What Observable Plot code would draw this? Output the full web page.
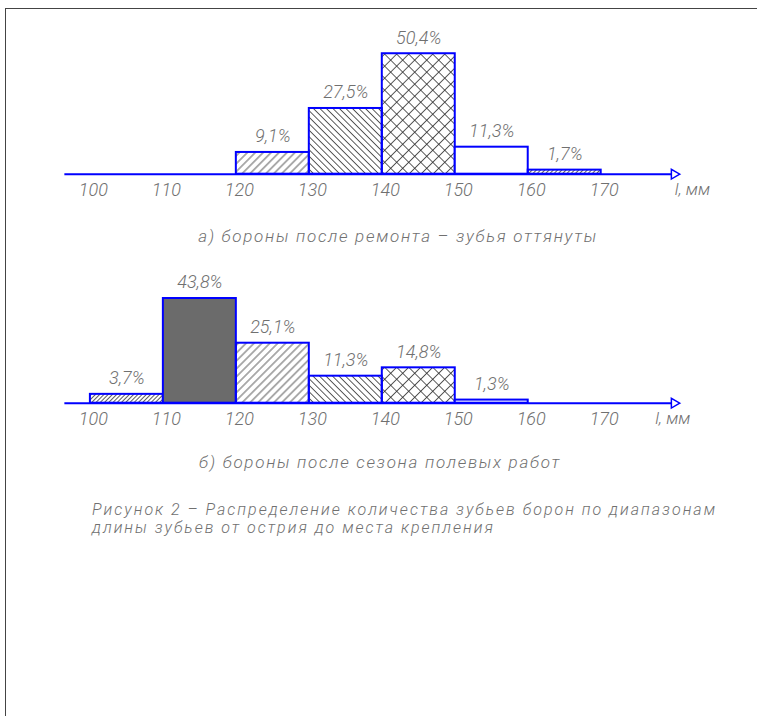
<!DOCTYPE html>
<html><head><meta charset="utf-8">
<script src="https://cdn.jsdelivr.net/npm/d3@7"></script>
<script src="https://cdn.jsdelivr.net/npm/@observablehq/plot@0.6"></script>
<style>
body{margin:0;background:#fff;width:757px;height:716px;overflow:hidden;position:relative;font-family:Roboto,"DejaVu Sans",sans-serif;}
#frame{position:absolute;left:5px;top:8px;width:800px;height:800px;border-top:1.5px solid #444;border-left:1.5px solid #444;}
.panel{position:absolute;left:0;}
.cap{position:absolute;font-style:italic;font-weight:300;color:#707070;font-size:17px;letter-spacing:1.7px;white-space:nowrap;line-height:18px;height:18px;}
.fig{font-size:16px;letter-spacing:2px;}
</style></head><body>
<svg width="0" height="0" style="position:absolute">
<defs>
 <pattern id="hF" width="5.6" height="5.6" patternUnits="userSpaceOnUse" patternTransform="rotate(45)"><line x1="2.8" y1="0" x2="2.8" y2="5.6" stroke="#333" stroke-width="0.8"/></pattern>
 <pattern id="hB" width="4.6" height="4.6" patternUnits="userSpaceOnUse" patternTransform="rotate(-45)"><line x1="2.3" y1="0" x2="2.3" y2="4.6" stroke="#333" stroke-width="0.8"/></pattern>
 <pattern id="hX" width="8.5" height="8.5" patternUnits="userSpaceOnUse" patternTransform="rotate(45)"><line x1="4.25" y1="0" x2="4.25" y2="8.5" stroke="#333" stroke-width="0.8"/><line x1="0" y1="4.25" x2="8.5" y2="4.25" stroke="#333" stroke-width="0.8"/></pattern>
 <pattern id="hD" width="3" height="3" patternUnits="userSpaceOnUse" patternTransform="rotate(45)"><line x1="1.5" y1="0" x2="1.5" y2="3" stroke="#333" stroke-width="0.8"/></pattern>
</defs></svg>
<div id="frame"></div>
<div id="pa" class="panel" style="top:0"></div>
<div id="pb" class="panel" style="top:229px"></div>
<div class="cap" style="left:398px;top:227px;transform:translateX(-50%)">а) бороны после ремонта – зубья оттянуты</div>
<div class="cap" style="left:380px;top:453px;transform:translateX(-50%)">б) бороны после сезона полевых работ</div>
<div class="cap fig" style="left:92px;top:501px;">Рисунок 2 – Распределение количества зубьев борон по диапазонам</div>
<div class="cap fig" style="left:92px;top:519px;">длины зубьев от острия до места крепления</div>
<script>
// ---- data ----
const binsA = [120, 130, 140, 150, 160];
const valuesA = [9.1, 27.5, 50.4, 11.3, 1.7];
const binsB = [100, 110, 120, 130, 140, 150];
const valuesB = [3.7, 43.8, 25.1, 11.3, 14.8, 1.3];
const binWidth = 10;
const tickValues = [100, 110, 120, 130, 140, 150, 160, 170];
const axisUnit = "l, мм";

// ---- styles ----
const fillsA = ["url(#hF)", "url(#hB)", "url(#hX)", "white", "url(#hD)"];
const fillsB = ["url(#hD)", "#6b6b6b", "url(#hF)", "url(#hB)", "url(#hX)", "white"];
const font = "Roboto, 'DejaVu Sans', sans-serif";
const txt = "#707070";

function panel(bins, values, fills, unitX) {
  const data = bins.map((b, i) => ({x1: b, x2: b + binWidth, y: values[i], f: fills[i]}));
  return Plot.plot({
    width: 757, height: 215,
    marginLeft: 89.9, marginRight: 156.3, marginTop: 30.3, marginBottom: 41.3,
    x: {domain: [100, 170], axis: null},
    y: {domain: [0, 60], axis: null},
    color: {type: "identity"},
    style: {fontFamily: font, background: "transparent", overflow: "visible"},
    marks: [
      Plot.ruleY([0], {x1: 96.5, x2: 180, stroke: "blue", strokeWidth: 2}),
      Plot.dot([0], {x: 180, y: 0, symbol: "triangle", rotate: 90, r: 3.6, stroke: "blue", fill: "white", strokeWidth: 1.5}),
      Plot.rectY(data, {x1: "x1", x2: "x2", y: "y", fill: "f", stroke: "blue", strokeWidth: 2}),
      Plot.text(data, {x: d => d.x1 + binWidth / 2, y: "y", text: d => String(d.y).replace(".", ",") + "%",
        dy: -16, fontSize: 18, fontStyle: "italic", fontWeight: 300, fill: txt, letterSpacing: 2.5, fontFamily: font}),
      Plot.axisX({ticks: tickValues, tickSize: 0, tickPadding: 9, fontSize: 18, fontStyle: "italic", fontWeight: 300,
        fill: txt, dx: 3, fontFamily: font, tickFormat: d => String(d)}),
      Plot.text([0], {x: unitX, y: 0, text: [axisUnit], dy: 15, fontSize: 17, fontStyle: "italic", fontWeight: 300, fill: txt, fontFamily: font})
    ]
  });
}
document.getElementById("pa").append(panel(binsA, valuesA, fillsA, 182.5));
document.getElementById("pb").append(panel(binsB, valuesB, fillsB, 179.8));
</script>
</body></html>
